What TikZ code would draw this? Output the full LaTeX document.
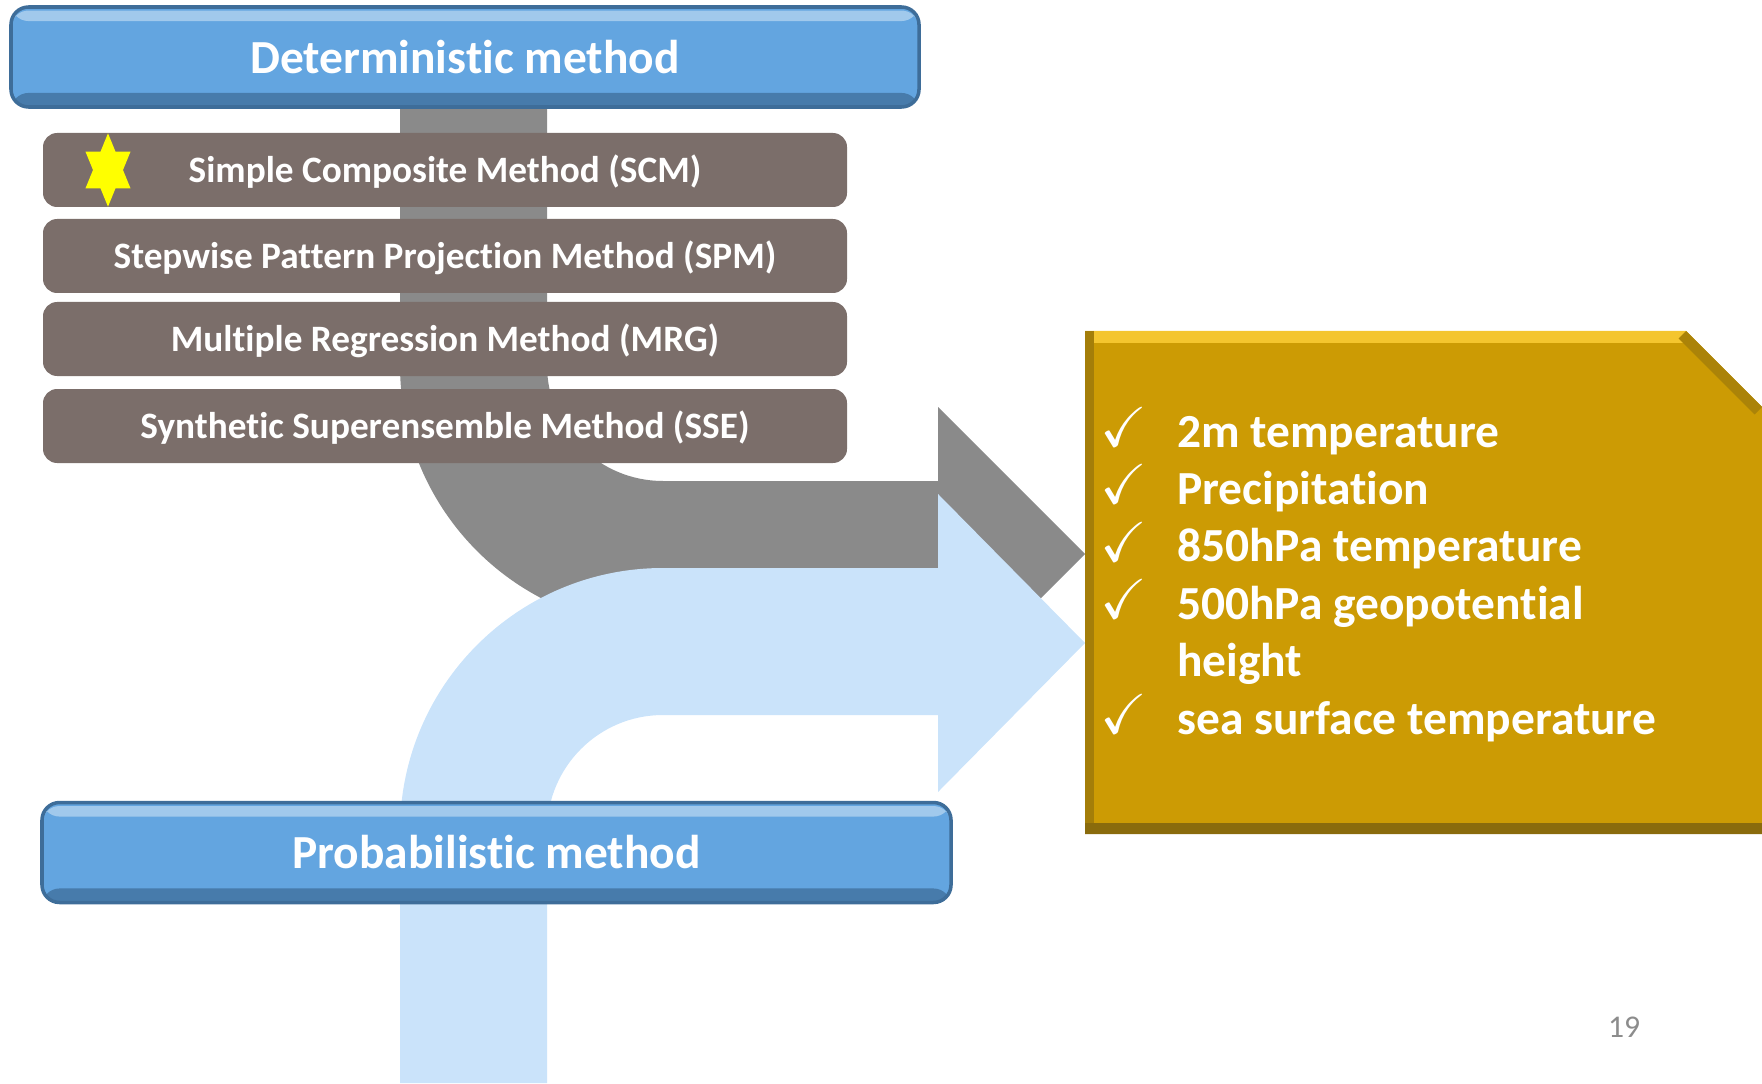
\documentclass[tikz,border=0pt]{standalone}
\usepackage{fontspec}
\setmainfont{Carlito}[Ligatures={NoCommon,NoContextual},RawFeature={-liga;-clig}]
\usepackage{amssymb}
\usetikzlibrary{positioning,calc}
\definecolor{barblue}{HTML}{63A5E0}
\definecolor{bardark}{HTML}{3E6D99}
\definecolor{boxbrown}{HTML}{7B6E6A}
\definecolor{arrowgray}{HTML}{8A8A8A}
\definecolor{arrowblue}{HTML}{CAE3FA}
\definecolor{gold}{HTML}{CC9B04}
\definecolor{goldlight}{HTML}{F4C52E}
\definecolor{golddark}{HTML}{8A6B0C}
\definecolor{pagegray}{HTML}{8C8C8C}
\definecolor{staryellow}{HTML}{FFFF00}
\tikzset{
	header/.style={rectangle, rounded corners=5pt, fill=barblue, draw=bardark, line width=1pt,
		text=white, font=\bfseries\fontsize{13.5}{16}\selectfont, minimum height=1cm, inner sep=0pt,
		path picture={
			\fill[white!40!barblue] ([yshift=-1pt]path picture bounding box.north west) rectangle ([yshift=-4pt]path picture bounding box.north east);
			\fill[bardark!75!barblue] (path picture bounding box.south west) rectangle ([yshift=4pt]path picture bounding box.south east);}},
	method/.style={rectangle, rounded corners=4pt, fill=boxbrown, text=white, minimum width=8.04cm,
		minimum height=0.74cm, inner sep=0pt, text depth=0.5pt, font=\bfseries\fontsize{10.6}{12}\selectfont},
	varline/.style={anchor=base west, text=white, inner sep=0pt, font=\bfseries\fontsize{13.5}{16}\selectfont},
	checkmk/.style={text=white, inner sep=0pt, font=\fontsize{16}{18}\selectfont}
}

\begin{document}
\begin{tikzpicture}
    \useasboundingbox (0,0) rectangle (17.62,-10.83);
    % grey arrow
    \fill[arrowgray] (4.00,-1.00) -- (4.00,-3.65) arc (180:270:2.63) -- (9.38,-6.28) -- (9.38,-7.01)
        -- (10.85,-5.54) -- (9.38,-4.07) -- (9.38,-4.81) -- (6.63,-4.81) arc (270:180:1.16) -- (5.47,-1.00) -- cycle;

    \node[header, minimum width=9.08cm] (det) at (4.65,-0.57) {Deterministic method};
    \node[method] (scm) at (4.45,-1.70) {Simple Composite Method (SCM)};
    \node[method] (spm) at (4.45,-2.56) {Stepwise Pattern Projection Method (SPM)};
    \node[method] (mrg) at (4.45,-3.39) {Multiple Regression Method (MRG)};
    \node[method] (sse) at (4.45,-4.26) {Synthetic Superensemble Method (SSE)};

    % star
    \fill[staryellow, shift={(1.08,-1.70)}] (90:0.26 and 0.367) -- (60:0.15 and 0.212) -- (30:0.26 and 0.367)
        -- (0:0.15 and 0.212) -- (330:0.26 and 0.367) -- (300:0.15 and 0.212) -- (270:0.26 and 0.367)
        -- (240:0.15 and 0.212) -- (210:0.26 and 0.367) -- (180:0.15 and 0.212) -- (150:0.26 and 0.367)
        -- (120:0.15 and 0.212) -- cycle;

    % blue arrow
    \fill[arrowblue] (4.00,-10.83) -- (4.00,-8.31) arc (180:90:2.63) -- (9.38,-5.68) -- (9.38,-4.94)
        -- (10.85,-6.43) -- (9.38,-7.92) -- (9.38,-7.15) -- (6.63,-7.15) arc (90:180:1.16) -- (5.47,-10.83) -- cycle;

    \node[header, minimum width=9.09cm] (prob) at (4.965,-8.525) {Probabilistic method};

    % gold box
    \begin{scope}
        \clip (10.85,-3.31) -- (16.86,-3.31) -- (17.62,-4.07) -- (17.62,-8.34) -- (10.85,-8.34) -- cycle;
        \fill[gold] (10.85,-3.31) rectangle (17.62,-8.34);
        \draw[goldlight, line width=7pt] (10.85,-3.31) -- (16.86,-3.31);
        \draw[golddark!50!gold, line width=6pt] (16.86,-3.31) -- (17.62,-4.07);
        \draw[golddark!60!gold, line width=5pt] (10.85,-3.31) -- (10.85,-8.34);
        \draw[golddark, line width=6pt] (10.85,-8.34) -- (17.62,-8.34);
    \end{scope}

    \node[varline] (v1) at (11.765,-4.47) {2m temperature};
    \node[varline] (v2) at (11.765,-5.044) {Precipitation};
    \node[varline] (v3) at (11.765,-5.618) {850hPa temperature};
    \node[varline] (v4) at (11.765,-6.192) {500hPa geopotential};
    \node[varline] (v5) at (11.765,-6.766) {height};
    \node[varline] (v6) at (11.765,-7.34) {sea surface temperature};
    \node[checkmk] (c1) at (11.24,-4.27) {$\checkmark$};
    \node[checkmk] (c2) at (11.24,-4.844) {$\checkmark$};
    \node[checkmk] (c3) at (11.24,-5.418) {$\checkmark$};
    \node[checkmk] (c4) at (11.24,-5.992) {$\checkmark$};
    \node[checkmk] (c6) at (11.24,-7.14) {$\checkmark$};

    \node[text=pagegray, font=\fontsize{9}{11}\selectfont] (page) at (16.24,-10.27) {19};
\end{tikzpicture}
\end{document}
